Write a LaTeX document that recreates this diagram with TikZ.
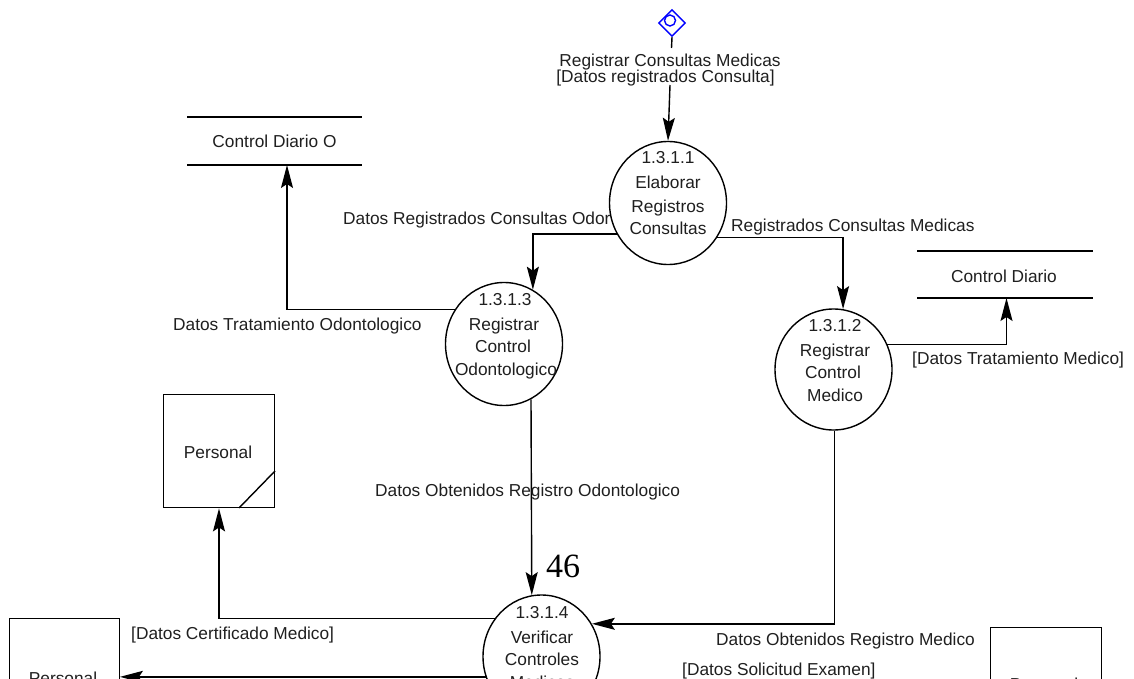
\documentclass[tikz,border=0pt]{standalone}
\usepackage{fontspec}
\setmainfont{Liberation Sans}
\newfontfamily\serifnum{Liberation Serif}
\usetikzlibrary{arrows.meta,shapes.geometric}
\tikzset{
  x=1pt,y=-1pt,
  lbl/.style={inner sep=0pt,anchor=base,font=\fontsize{17.3}{20}\selectfont,text=black!88},
  lbw/.style={lbl,anchor=base west},
  proc/.style={ellipse,draw=black,line width=1.4pt,fill=white,minimum width=117pt,minimum height=123pt,inner sep=0pt},
  flow/.style={draw=black,line width=1.4pt,-{Stealth[length=23pt,width=12pt,inset=4pt]}},
  ln/.style={draw=black,line width=1.4pt},
  boxy/.style={draw=black,line width=1.4pt,fill=white,anchor=north west,inner sep=0pt},
}
\begin{document}
\begin{tikzpicture}
\useasboundingbox (0,0) rectangle (1134,679);
\clip (0,0) rectangle (1134,679);
% stores
\coordinate (s1a) at (187,117); \coordinate (s1b) at (362,117);
\coordinate (s1c) at (187,165); \coordinate (s1d) at (362,165);
\draw[ln] (s1a)--(s1b) (s1c)--(s1d);
\node[lbl] (s1) at (274.5,148) {Control Diario O};
\coordinate (s2a) at (917,251); \coordinate (s2b) at (1093,251);
\coordinate (s2c) at (917,298); \coordinate (s2d) at (1093,298);
\draw[ln] (s2a)--(s2b) (s2c)--(s2d);
\node[lbl] (s2) at (1004,282) {Control Diario};
% external boxes
\node[boxy,minimum width=111pt,minimum height=113pt] (p1) at (163,394) {};
\node[lbl] (p1t) at (218,458) {Personal};
\coordinate (k1) at (239,508); \coordinate (k2) at (275,471);
\draw[ln] (k1)--(k2);
\node[boxy,minimum width=109.5pt,minimum height=120pt] (p2) at (9,618) {};
\node[lbl] (p2t) at (63,684) {Personal};
\node[boxy,minimum width=111pt,minimum height=120pt] (p3) at (990,627) {};
\node[lbl] (p3t) at (1044,690) {Personal};
% processes
\node[proc] (c1) at (668,203) {};
\node[proc] (c3) at (504,344) {};
\node[proc,minimum height=121pt] (c2) at (833.5,369.5) {};
\node[proc] (c4) at (541.5,656.5) {};
% process texts
\node[lbl] at (668,164) {1.3.1.1};
\node[lbl] at (668,189) {Elaborar};
\node[lbl] at (668,212) {Registros};
\node[lbl] at (668,234) {Consultas};
\node[lbl] at (505,305) {1.3.1.3};
\node[lbl] at (504,330) {Registrar};
\node[lbl] at (503,352) {Control};
\node[lbl] at (506,375) {Odontologico};
\node[lbl] at (835,331) {1.3.1.2};
\node[lbl] at (835,356) {Registrar};
\node[lbl] at (833,378) {Control};
\node[lbl] at (835,401) {Medico};
\node[lbl] at (542,618) {1.3.1.4};
\node[lbl] at (542,643) {Verificar};
\node[lbl] at (542,665) {Controles};
\node[lbl] at (542,688) {Medicos};
% start
\node[diamond,draw=blue,line width=1.4pt,minimum size=27pt,inner sep=0pt] (st) at (672,23) {};
\node[circle,draw=blue,line width=1.4pt,minimum size=11pt,inner sep=0pt] (sti) at (670,20.5) {};
\coordinate (t2) at (671.5,48);
\coordinate (t3) at (670,85);
\draw[ln] (st.south)--(t2);
\draw[flow] (t3)--(c1.north);
% flows
\draw[flow] (c1.211.4) -| (c3.62.9);
\draw[flow] (c1.-35.9) -| (c2.81);
\coordinate (b3) at (287,310);
\draw[flow] (c3.145.1) -| (s1c -| b3);
\coordinate (b4) at (1006.5,344);
\draw[flow] (c2.25.3) -| (s2c -| b4);
\draw[flow] (c3.-64.2) -- (c4.99);
\draw[flow] (c2.-89) |- (c4.33);
\coordinate (b7) at (219,619);
\draw[flow] (c4.141) -| (p1.south -| b7);
\draw[flow] (c4.200.4) -- (p2.east |- c4.200.4);
% labels
\node[lbl] at (670,67) {Registrar Consultas Medicas};
\node[lbl] at (665.5,83) {[Datos registrados Consulta]};
\node[lbw] at (343,224) {Datos Registrados Consultas Odor};
\node[lbw] at (731,231) {Registrados Consultas Medicas};
\node[lbw] at (173,330) {Datos Tratamiento Odontologico};
\node[lbw] at (912,364) {[Datos Tratamiento Medico]};
\node[lbw] at (375,496) {Datos Obtenidos Registro Odontologico};
\node[lbw] at (131,639) {[Datos Certificado Medico]};
\node[lbw] at (716,645) {Datos Obtenidos Registro Medico};
\node[lbw] at (682,675) {[Datos Solicitud Examen]};
\node[inner sep=0pt,font=\serifnum\fontsize{34}{34}\selectfont] at (563,566) {46};
\end{tikzpicture}
\end{document}
